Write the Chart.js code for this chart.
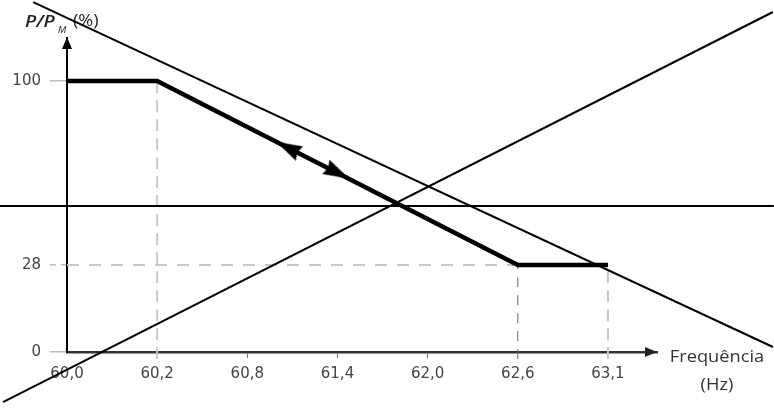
<!DOCTYPE html>
<html>
<head>
<meta charset="utf-8">
<script src="https://cdn.jsdelivr.net/npm/chart.js@4"></script>
<style>
  html, body { margin: 0; padding: 0; background: #fff; }
  #wrap { width: 774px; height: 414px; position: relative; }
</style>
</head>
<body>
<div id="wrap"><canvas id="chart"></canvas></div>
<script>
// --- data ---
const freqTicks = [60.0, 60.2, 60.8, 61.4, 62.0, 62.6, 63.1];
const powerTicks = [0, 28, 100];

const curveFreq = [60.0, 60.2, 62.6, 63.1];
const curvePower = [100, 100, 28, 28];

const arrowFreq = [61.07, 61.40];
const arrowPower = [73.9, 64.1];

const guide602Freq = [60.2, 60.2];
const guide602Power = [-2.3, 100];
const guide626Freq = [62.6, 62.6];
const guide626Power = [-2.3, 28];
const guide631Freq = [63.1, 63.1];
const guide631Power = [-2.3, 28];
const guide28Freq = [60.0, 62.6];
const guide28Power = [28, 28];

// the three long lines crossing the whole picture
const crossDownFreq = [59.925, 64.015];
const crossDownPower = [130.9, 1.6];
const crossUpFreq = [59.858, 64.015];
const crossUpPower = [-16.1, 127.0];
const levelFreq = [59.85, 64.02];
const levelPower = [51.1, 51.1];

const pts = (xs, ys) => xs.map((x, i) => ({ x: x, y: ys[i] }));

// --- scale where the tick values sit at fixed fractions of the axis ---
class StopScale extends Chart.LinearScale {
    static id = 'stops';
    toDecimal(v) {
        const s = this.options.stops, d = this.options.at;
        let i = 0;
        if (v >= s[s.length - 1]) i = s.length - 2;
        else while (i < s.length - 2 && v > s[i + 1]) i++;
        return d[i] + (v - s[i]) / (s[i + 1] - s[i]) * (d[i + 1] - d[i]);
    }
    getPixelForValue(v) {
        return v == null ? NaN : this.getPixelForDecimal(this.toDecimal(v));
    }
    getValueForPixel(p) {
        const s = this.options.stops, d = this.options.at;
        const f = this.getDecimalForPixel(p);
        let i = 0;
        if (f >= d[d.length - 1]) i = d.length - 2;
        else while (i < d.length - 2 && f > d[i + 1]) i++;
        return s[i] + (f - d[i]) / (d[i + 1] - d[i]) * (s[i + 1] - s[i]);
    }
    buildTicks() {
        return this.options.stops.map(v => ({ value: v }));
    }
}
Chart.register(StopScale);

// right-pointing arrow head, rotated per point
const arrowImg = document.createElement('canvas');
arrowImg.width = 26; arrowImg.height = 16;
(function () {
    const c = arrowImg.getContext('2d');
    c.fillStyle = '#000';
    c.beginPath(); c.moveTo(26, 8); c.lineTo(0, 0); c.lineTo(2.5, 8); c.lineTo(0, 16); c.closePath(); c.fill();
})();

function stretchText(ctx, text, x, y, sx, align) {
    ctx.save();
    ctx.translate(x, y);
    ctx.scale(sx, 1);
    ctx.textAlign = align;
    ctx.fillText(text, 0, 0);
    ctx.restore();
}

const decor = {
    id: 'decor',
    beforeDatasetsDraw(chart) {
        const ctx = chart.ctx;
        ctx.save();
        ctx.textBaseline = 'alphabetic';
        ctx.fillStyle = '#222';
        ctx.font = 'italic 600 17px "Open Sans"';
        stretchText(ctx, 'P/P', 25, 27, 1.12, 'left');
        ctx.font = 'italic 9px "Open Sans"';
        stretchText(ctx, 'M', 58, 33, 1.1, 'left');
        ctx.font = '16px "Open Sans"';
        stretchText(ctx, '(%)', 73, 26, 1.13, 'left');

        ctx.fillStyle = '#333';
        ctx.textBaseline = 'middle';
        ctx.font = '16px "Open Sans"';
        stretchText(ctx, 'Frequência', 717, 357, 1.14, 'center');
        stretchText(ctx, '(Hz)', 717, 385, 1.14, 'center');
        ctx.restore();
    },
    afterDraw(chart) {
        const ctx = chart.ctx, a = chart.chartArea;
        ctx.save();
        ctx.fillStyle = '#000';
        ctx.beginPath();
        ctx.moveTo(a.left, a.top - 1); ctx.lineTo(a.left - 5, a.top + 11); ctx.lineTo(a.left + 5, a.top + 11);
        ctx.fill();
        ctx.fillStyle = '#222';
        ctx.beginPath();
        ctx.moveTo(a.right, a.bottom); ctx.lineTo(a.right - 12, a.bottom - 5); ctx.lineTo(a.right - 12, a.bottom + 5);
        ctx.fill();
        ctx.restore();
    }
};

const tickFont = { family: 'DejaVu Sans', size: 15 };
const xSpan = 6.544; // axis length measured in tick steps

new Chart(document.getElementById('chart'), {
    type: 'line',
    data: {
        datasets: [
            { data: pts(arrowFreq, arrowPower), showLine: false, pointStyle: arrowImg, rotation: [206.9, 26.9], pointRadius: 13, order: 0 },
            { data: pts(curveFreq, curvePower), borderColor: '#000', borderWidth: 4.5, borderJoinStyle: 'miter', pointRadius: 0, order: 1 },
            { data: pts(crossDownFreq, crossDownPower), borderColor: '#000', borderWidth: 2, pointRadius: 0, order: 2 },
            { data: pts(crossUpFreq, crossUpPower), borderColor: '#000', borderWidth: 2, pointRadius: 0, order: 3 },
            { data: pts(levelFreq, levelPower), borderColor: '#000', borderWidth: 2, pointRadius: 0, order: 4 },
            { data: pts(guide602Freq, guide602Power), borderColor: '#c8c8c8', borderWidth: 2, borderDash: [12, 7], pointRadius: 0, order: 5 },
            { data: pts(guide626Freq, guide626Power), borderColor: '#666', borderWidth: 1, borderDash: [10, 8], pointRadius: 0, order: 6 },
            { data: pts(guide631Freq, guide631Power), borderColor: '#c8c8c8', borderWidth: 2, borderDash: [12, 7], pointRadius: 0, order: 7 },
            { data: pts(guide28Freq, guide28Power), borderColor: '#c8c8c8', borderWidth: 2, borderDash: [12, 10], pointRadius: 0, order: 8 }
        ]
    },
    options: {
        responsive: true,
        maintainAspectRatio: false,
        animation: false,
        clip: false,
        layout: { padding: { top: 38, right: 117, left: 0, bottom: 0 } },
        plugins: { legend: { display: false }, tooltip: { enabled: false } },
        scales: {
            x: {
                type: 'stops',
                stops: freqTicks,
                at: freqTicks.map((_, i) => i / xSpan),
                afterFit: s => { s.height = 62; },
                border: { color: '#333', width: 2.5 },
                grid: {
                    drawOnChartArea: false,
                    tickLength: 6,
                    color: c => [2, 3, 4].includes(c.index) ? '#777' : 'rgba(0,0,0,0)'
                },
                ticks: {
                    autoSkip: false, maxRotation: 0, padding: 7,
                    font: tickFont, color: '#444',
                    callback: v => v.toFixed(1).replace('.', ',')
                }
            },
            y: {
                type: 'stops',
                stops: powerTicks,
                at: [0, 87 / 314, 271 / 314],
                afterFit: s => { s.width = 67; },
                border: { color: '#000', width: 2 },
                grid: {
                    drawOnChartArea: false,
                    tickLength: 17,
                    color: '#bbb',
                    lineWidth: 1.5,
                    tickBorderDash: c => (c.tick && c.tick.value === 28) ? [6, 5] : []
                },
                ticks: {
                    autoSkip: false, padding: 9,
                    font: tickFont, color: '#444',
                    callback: v => String(v)
                }
            }
        }
    },
    plugins: [decor]
});
</script>
</body>
</html>
